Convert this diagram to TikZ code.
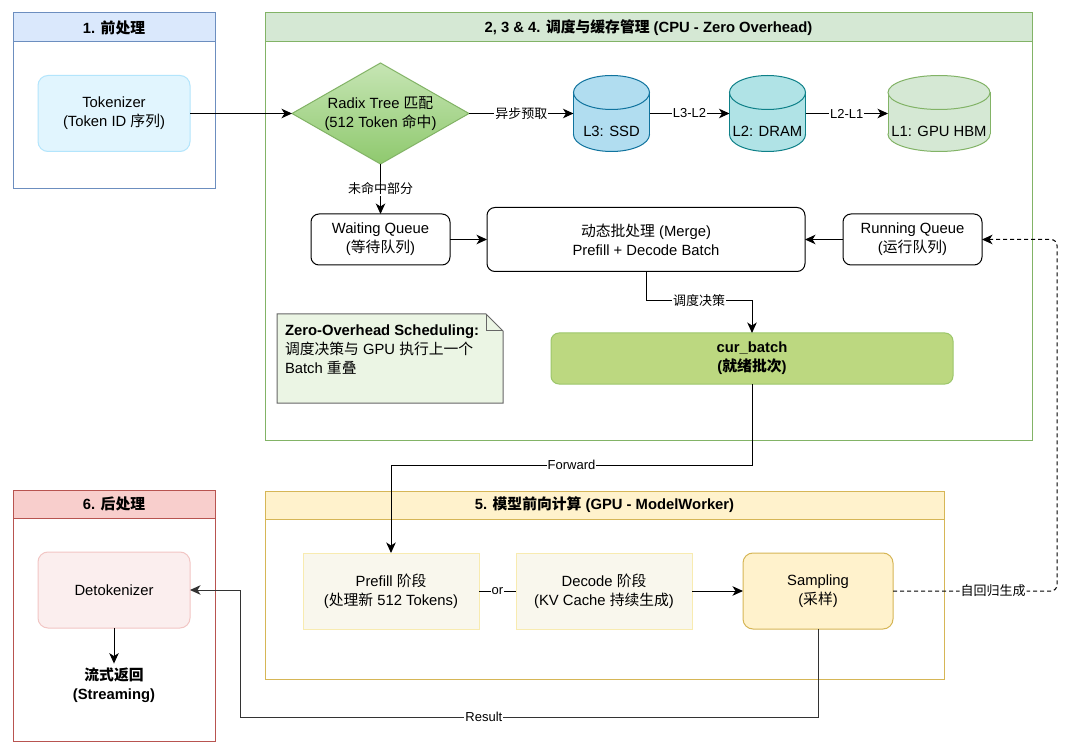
\documentclass[tikz,border=0pt]{standalone}
\usepackage{fontspec}
\setmainfont{Liberation Sans}
\newfontfamily\cjk{Noto Sans CJK SC}
\usetikzlibrary{shapes.geometric,arrows.meta,calc}
\newcommand\zh[1]{{\cjk #1}}
\definecolor{blueHead}{HTML}{DAE8FC}
\definecolor{blueLine}{HTML}{6C8EBF}
\definecolor{tokFill}{HTML}{E1F5FE}
\definecolor{tokLine}{HTML}{B3E5FC}
\definecolor{greenHead}{HTML}{D5E8D4}
\definecolor{greenLine}{HTML}{82B366}
\definecolor{diaTop}{HTML}{C6E5B4}
\definecolor{diaBot}{HTML}{8FC96E}
\definecolor{cbFill}{HTML}{BCD880}
\definecolor{cbLine}{HTML}{9CC66A}
\definecolor{ssdFill}{HTML}{B1DDF0}
\definecolor{ssdLine}{HTML}{10739E}
\definecolor{dramFill}{HTML}{B0E3E6}
\definecolor{dramLine}{HTML}{0E8088}
\definecolor{noteFill}{HTML}{EBF5E4}
\definecolor{noteLine}{HTML}{666666}
\definecolor{yelHead}{HTML}{FFF2CC}
\definecolor{yelLine}{HTML}{D6B656}
\definecolor{phFill}{HTML}{F9F7ED}
\definecolor{phLine}{HTML}{F8EBB0}
\definecolor{redHead}{HTML}{F8CECC}
\definecolor{redLine}{HTML}{B85450}
\definecolor{detFill}{HTML}{FBEEEE}
\definecolor{detLine}{HTML}{F2C6C4}
\definecolor{resGray}{HTML}{333333}
\def\cylRY{17}
\newcommand\cyl[6]{%
 \pgfmathsetmacro\cylL{#1-#3/2}%
 \pgfmathsetmacro\cylR{#1+#3/2}%
 \pgfmathsetmacro\cylRX{#3/2}%
 \pgfmathsetmacro\cylTop{#2+\cylRY}%
 \pgfmathsetmacro\cylBot{#2+#4-\cylRY}%
 \filldraw[fill=#5,draw=#6,line width=1pt] (#1,\cylBot) ellipse [x radius=\cylRX pt, y radius=\cylRY pt];
 \fill[#5] (\cylL,\cylTop) rectangle (\cylR,\cylBot);
 \draw[#6,line width=1pt] (\cylL,\cylTop) -- (\cylL,\cylBot) (\cylR,\cylTop) -- (\cylR,\cylBot);
 \filldraw[fill=#5,draw=#6,line width=1pt] (#1,\cylTop) ellipse [x radius=\cylRX pt, y radius=\cylRY pt];
}
\begin{document}
\begin{tikzpicture}[x=1pt,y=-1pt,
  every node/.style={font=\fontsize{14.8}{19}\selectfont, inner sep=0pt, outer sep=0pt},
  lbl/.style={font=\fontsize{13}{15}\selectfont, fill=white, inner sep=1pt},
  conn/.style={line width=1pt, -{Stealth[length=10.5pt,width=9.5pt,inset=3pt]}},
  plainline/.style={line width=1pt},
  panelbody/.style={draw, line width=1pt, fill=white, anchor=north west},
  panelhead/.style={draw, line width=1pt, anchor=north west, font=\fontsize{14.8}{19}\selectfont\bfseries},
  rbox/.style={draw, line width=1pt, align=center, rounded corners=10pt},
  sbox/.style={draw, line width=1pt, align=center},
  cylbox/.style={minimum width=#1, minimum height=76},
]
\useasboundingbox (0,0) rectangle (1080,754);
\fill[white] (0,0) rectangle (1080,754);

% ---------- panels ----------
\node[panelbody, draw=blueLine, minimum width=202, minimum height=176] (p1) at (13,13) {};
\node[panelhead, draw=blueLine, fill=blueHead, minimum width=202, minimum height=29] (h1) at (13,13) {1. \zh{前处理}};

\node[panelbody, draw=greenLine, minimum width=767, minimum height=427] (p2) at (265,13) {};
\node[panelhead, draw=greenLine, fill=greenHead, minimum width=767, minimum height=29] (h2) at (265,13) {2, 3 \& 4. \zh{调度与缓存管理} (CPU - Zero Overhead)};

\node[panelbody, draw=yelLine, minimum width=679, minimum height=188] (p5) at (265,491) {};
\node[panelhead, draw=yelLine, fill=yelHead, minimum width=679, minimum height=28] (h5) at (265,491) {5. \zh{模型前向计算} (GPU - ModelWorker)};

\node[panelbody, draw=redLine, minimum width=202, minimum height=251] (p6) at (13,490) {};
\node[panelhead, draw=redLine, fill=redHead, minimum width=202, minimum height=28] (h6) at (13,490) {6. \zh{后处理}};

% ---------- stage 1 ----------
\node[rbox, draw=tokLine, fill=tokFill, minimum width=152, minimum height=76] (tok) at (114,113.5) {Tokenizer\\(Token ID \zh{序列})};

% ---------- stage 2-4 ----------
\node[diamond, aspect=1.75, minimum width=177, minimum height=101, draw=greenLine, top color=diaTop, bottom color=diaBot, line width=1pt, align=center] (dia) at (380.5,113.5) {Radix Tree \zh{匹配}\\(512 Token \zh{命中})};

\node[cylbox=76] (l3) at (611.5,113.5) {};
\cyl{611.5}{75.5}{76}{76}{ssdFill}{ssdLine}
\node (l3t) at (611.5,131) {L3: SSD};

\node[cylbox=76] (l2) at (767.5,113.5) {};
\cyl{767.5}{75.5}{76}{76}{dramFill}{dramLine}
\node (l2t) at (767.5,131) {L2: DRAM};

\node[cylbox=102] (l1) at (939,113.5) {};
\cyl{939}{75.5}{102}{76}{greenHead}{greenLine}
\node (l1t) at (939,131) {L1: GPU HBM};

\node[rbox, rounded corners=8pt, fill=white, minimum width=139, minimum height=51] (wq) at (380.5,239.5) {Waiting Queue\\(\zh{等待队列})};
\node[rbox, rounded corners=8pt, fill=white, minimum width=318, minimum height=64] (batch) at (646,239.5) {\zh{动态批处理} (Merge)\\Prefill + Decode Batch};
\node[rbox, rounded corners=8pt, fill=white, minimum width=139, minimum height=51] (rq) at (912.5,239.5) {Running Queue\\(\zh{运行队列})};

\node[rbox, rounded corners=8pt, draw=cbLine, fill=cbFill, minimum width=402, minimum height=51, font=\fontsize{14.8}{19}\selectfont\bfseries] (cb) at (752,358.5) {cur\_batch\\(\zh{就绪批次})};

\node[anchor=north west, minimum width=226, minimum height=89] (note) at (277,314) {};
\draw[line width=1pt, draw=noteLine, fill=noteFill] (note.north west) -- ($(note.north east)+(-17,0)$) -- ($(note.north east)+(0,17)$) -- (note.south east) -- (note.south west) -- cycle;
\draw[line width=1pt, draw=noteLine] ($(note.north east)+(-17,0)$) -- ($(note.north east)+(-17,17)$) -- ($(note.north east)+(0,17)$);
\node[anchor=north west, align=left] (notetext) at (285,325) {\textbf{Zero-Overhead Scheduling:}\\\zh{调度决策与} GPU \zh{执行上一个}\\Batch \zh{重叠}};

% ---------- stage 5 ----------
\node[sbox, draw=phLine, fill=phFill, minimum width=176, minimum height=76] (pre) at (391,591) {Prefill \zh{阶段}\\(\zh{处理新} 512 Tokens)};
\node[sbox, draw=phLine, fill=phFill, minimum width=176, minimum height=76] (dec) at (604,591) {Decode \zh{阶段}\\(KV Cache \zh{持续生成})};
\node[rbox, draw=yelLine, fill=yelHead, minimum width=150, minimum height=76] (samp) at (818,591) {Sampling\\(\zh{采样})};

% ---------- stage 6 ----------
\node[rbox, draw=detLine, fill=detFill, minimum width=152, minimum height=76] (detok) at (114,590) {Detokenizer};
\node[align=center, font=\fontsize{14.8}{19}\selectfont\bfseries] (stream) at (114,685) {\zh{流式返回}\\(Streaming)};

% ---------- helper coordinates ----------
\coordinate (b1) at (646,301);
\coordinate (f1) at (752,465);
\coordinate (loop) at (1057,591);
\coordinate (r1) at (818,717);
\coordinate (r2) at (240,717);

% ---------- connectors ----------
\draw[conn] (tok.east) -- (dia.west);
\draw[conn] (dia.east) -- node[lbl]{\zh{异步预取}} (l3.west);
\draw[conn] (l3.east) -- node[lbl]{L3-L2} (l2.west);
\draw[conn] (l2.east) -- node[lbl]{L2-L1} (l1.west);
\draw[conn] (dia.south) -- node[lbl]{\zh{未命中部分}} (wq.north);
\draw[conn] (wq.east) -- (batch.west);
\draw[conn] (rq.west) -- (batch.east);
\draw[conn] (batch.south) -- (b1) -| node[lbl,pos=0.25]{\zh{调度决策}} (cb.north);
\draw[conn] (cb.south) -- (f1) -| node[lbl,pos=0.25]{Forward} (pre.north);
\draw[plainline] (pre.east) -- node[lbl]{or} (dec.west);
\draw[conn] (dec.east) -- (samp.west);
\draw[conn, dash pattern=on 4pt off 3pt, rounded corners=6pt] (samp.east) -- node[lbl,pos=0.61]{\zh{自回归生成}} (loop) |- (rq.east);
\draw[conn, draw=resGray] (samp.south) -- (r1) -- node[lbl,pos=0.578]{Result} (r2) |- (detok.east);
\draw[conn] (detok.south) -- ([yshift=4pt]stream.north);
\end{tikzpicture}
\end{document}
